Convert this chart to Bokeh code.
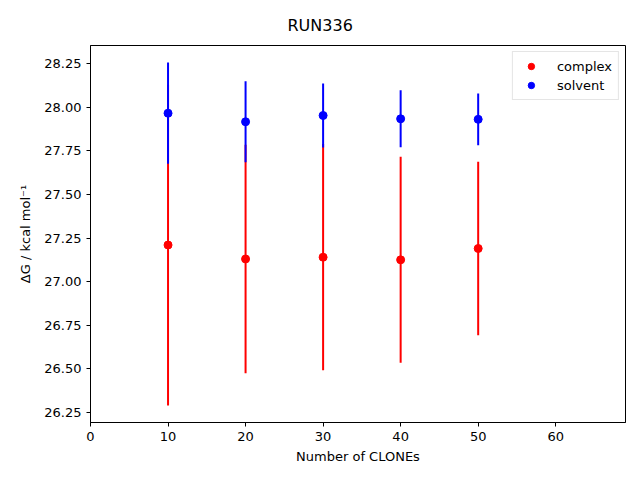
from bokeh.plotting import figure
from bokeh.models import ColumnDataSource, FixedTicker, NumeralTickFormatter, Range1d, Legend, LegendItem
from bokeh.embed import file_html
from bokeh.resources import INLINE

clones = [10, 20, 30, 40, 50]
complex_dg = [27.21, 27.13, 27.14, 27.125, 27.19]
complex_err = [0.92, 0.655, 0.648, 0.59, 0.497]
solvent_dg = [27.965, 27.916, 27.952, 27.933, 27.93]
solvent_err = [0.29, 0.232, 0.183, 0.163, 0.148]
x_ticks = [0, 10, 20, 30, 40, 50, 60]
y_ticks = [26.25, 26.50, 26.75, 27.00, 27.25, 27.50, 27.75, 28.00, 28.25]

FONT = "DejaVu Sans"

p = figure(output_backend="svg", toolbar_location=None,
           frame_width=535, frame_height=377,
           x_range=Range1d(0, 69.0), y_range=Range1d(26.193, 28.353),
           min_border_left=90, min_border_right=7, min_border_top=45, min_border_bottom=50,
           title="RUN336")

p.title.align = "left"
p.title.offset = 197
p.title.standoff = 22
p.title.text_font = FONT
p.title.text_font_size = "16px"
p.title.text_font_style = "normal"
p.title.text_color = "black"

def make_src(x, y, e):
    return ColumnDataSource(dict(x=x, y=y, lo=[a - b for a, b in zip(y, e)], hi=[a + b for a, b in zip(y, e)]))

cs = make_src(clones, complex_dg, complex_err)
ss = make_src(clones, solvent_dg, solvent_err)

p.segment(x0="x", y0="lo", x1="x", y1="hi", source=cs, line_color="red", line_width=2)
rc = p.scatter(x="x", y="y", source=cs, size=8, fill_color="red", line_color="red")
p.segment(x0="x", y0="lo", x1="x", y1="hi", source=ss, line_color="blue", line_width=2)
rs = p.scatter(x="x", y="y", source=ss, size=8, fill_color="blue", line_color="blue")

legend = Legend(items=[LegendItem(label="complex", renderers=[rc]),
                       LegendItem(label="solvent", renderers=[rs])],
                location="top_right")
legend.label_text_font = FONT
legend.label_text_font_size = "13px"
legend.label_text_color = "black"
legend.border_line_color = "#cccccc"
legend.border_line_width = 1
legend.margin = 6
legend.padding = 6
legend.spacing = 3
legend.glyph_width = 24
legend.glyph_height = 16
legend.label_height = 16
legend.label_standoff = 14
p.add_layout(legend)

p.xgrid.visible = False
p.ygrid.visible = False
p.outline_line_color = "black"
p.outline_line_width = 1

p.xaxis.ticker = FixedTicker(ticks=x_ticks)
p.yaxis.ticker = FixedTicker(ticks=y_ticks)
p.yaxis.formatter = NumeralTickFormatter(format="0.00")
p.xaxis.axis_label = "Number of CLONEs"
p.yaxis.axis_label = "ΔG / kcal mol⁻¹"
for ax in (p.xaxis[0], p.yaxis[0]):
    ax.axis_label_text_font = FONT
    ax.axis_label_text_font_size = "13px"
    ax.axis_label_text_font_style = "normal"
    ax.axis_label_text_color = "black"
    ax.major_label_text_font = FONT
    ax.major_label_text_font_size = "13px"
    ax.major_label_text_color = "black"
    ax.minor_tick_line_color = None
    ax.major_tick_in = 0
    ax.major_tick_out = 4
    ax.major_tick_line_color = "black"
    ax.axis_line_color = "black"
p.xaxis.axis_label_standoff = 5
p.yaxis.axis_label_standoff = 8

open("out.html", "w").write(file_html(p, INLINE))
